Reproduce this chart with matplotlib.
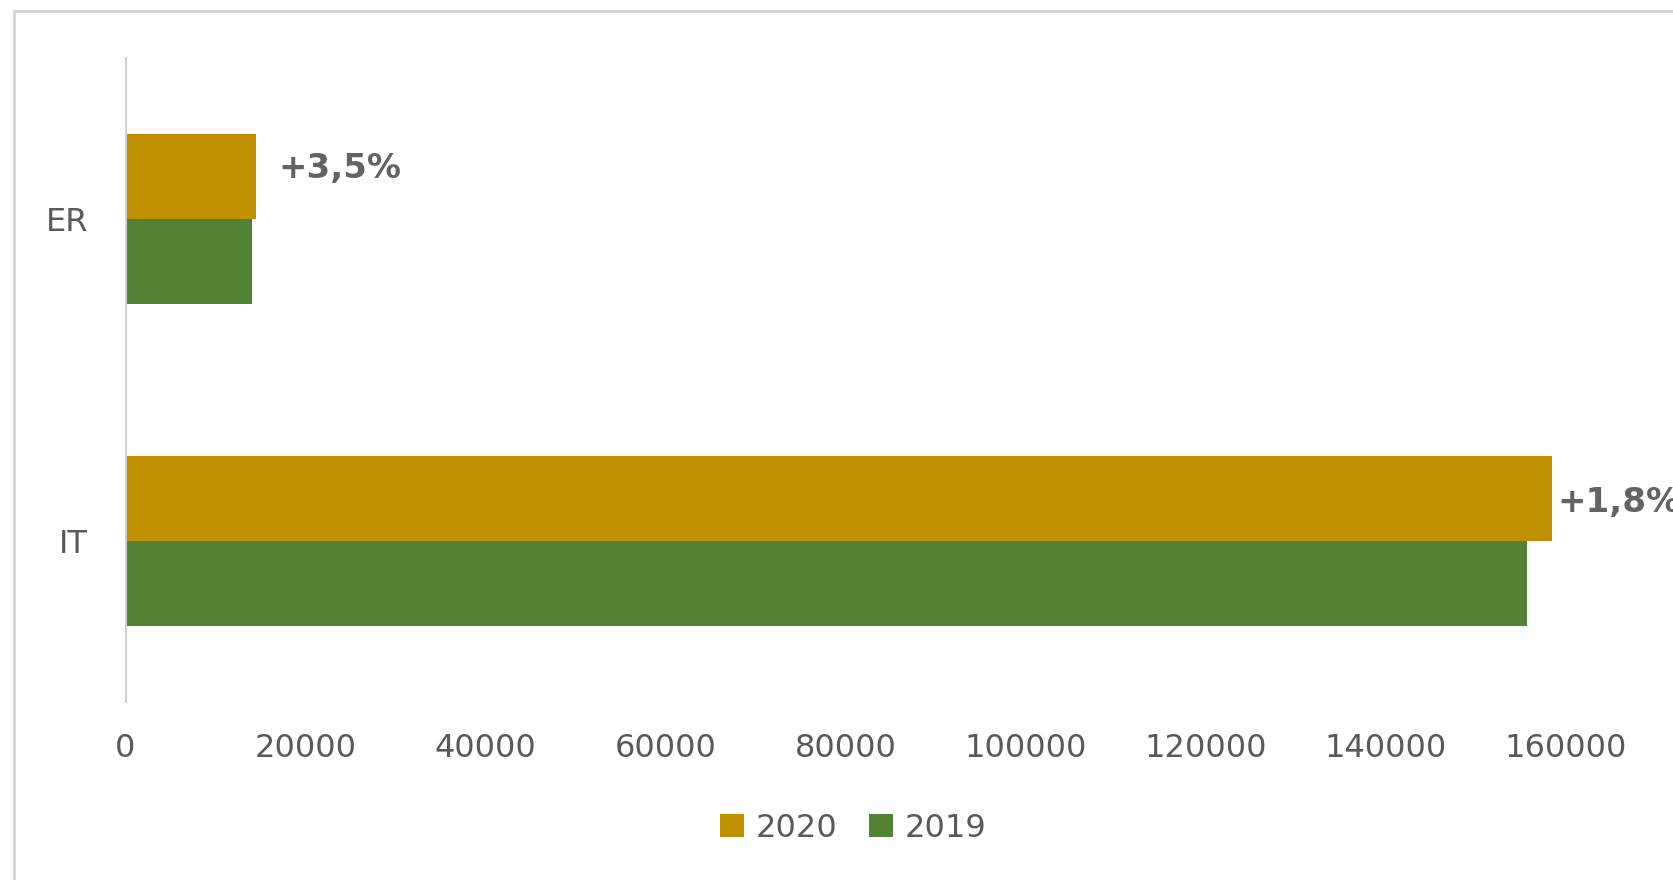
import matplotlib.pyplot as plt
from matplotlib.lines import Line2D
import numpy as np

# data
regions = ["IT", "ER"]
vals_2020 = [158500, 14490]
vals_2019 = [155700, 14000]
growth = ["+1,8%", "+3,5%"]
xticks = [0, 20000, 40000, 60000, 80000, 100000, 120000, 140000, 160000]

GOLD = "#BF9000"
GREEN = "#548235"
TXT = "#595959"


def main():
    plt.rcParams['font.family'] = ['DejaVu Sans']
    fig = plt.figure(figsize=(16.73, 8.80), dpi=100)
    W, H = 1673, 880
    # plot area in pixels: x 125.5 -> 1610.5, y 58 -> 702 (from top)
    ax = fig.add_axes([125.5 / W, 1 - 702 / H, (1610.5 - 125.5) / W, (702 - 58) / H])

    y = np.arange(len(regions))
    h = 0.264
    ax.barh(y + h / 2, vals_2020, height=h, color=GOLD, label="2020")
    ax.barh(y - h / 2, vals_2019, height=h, color=GREEN, label="2019")

    # labels next to the 2020 bars
    offsets = [(4, -3), (16, 6)]
    for i, txt in enumerate(growth):
        ax.annotate(txt, xy=(vals_2020[i], y[i] + h / 2), xytext=offsets[i],
                    textcoords="offset points", ha="left", va="center",
                    fontsize=24.5, fontweight="bold", color="#636363",
                    annotation_clip=False)

    ax.set_xlim(0, 165000)
    ax.set_ylim(-0.5, 1.5)
    ax.set_xticks(xticks)
    ax.set_xticklabels([str(t) for t in xticks])
    ax.set_yticks(y)
    ax.set_yticklabels(regions)
    ax.tick_params(axis="x", length=0, pad=22, labelsize=23, labelcolor=TXT)
    ax.tick_params(axis="y", length=0, pad=27, labelsize=23, labelcolor=TXT)

    for s in ["top", "right", "bottom"]:
        ax.spines[s].set_visible(False)
    ax.spines["left"].set_color("#D0D0D0")
    ax.spines["left"].set_linewidth(1.5)

    fig.legend(loc="center", bbox_to_anchor=(853 / W, 1 - 828 / H), ncol=2,
               frameon=False, fontsize=23, labelcolor=TXT,
               handlelength=0.75, handleheight=0.75, handletextpad=0.36,
               columnspacing=1.0)

    # light frame around the chart (top and left visible)
    fig.add_artist(Line2D([14 / W, 1.0], [1 - 11 / H, 1 - 11 / H], color="#D4D4D4", lw=2))
    fig.add_artist(Line2D([14 / W, 14 / W], [0, 1 - 11 / H], color="#D4D4D4", lw=2))

    fig.savefig("out.png", dpi=100, facecolor="white")


if __name__ == '__main__':
    main()
